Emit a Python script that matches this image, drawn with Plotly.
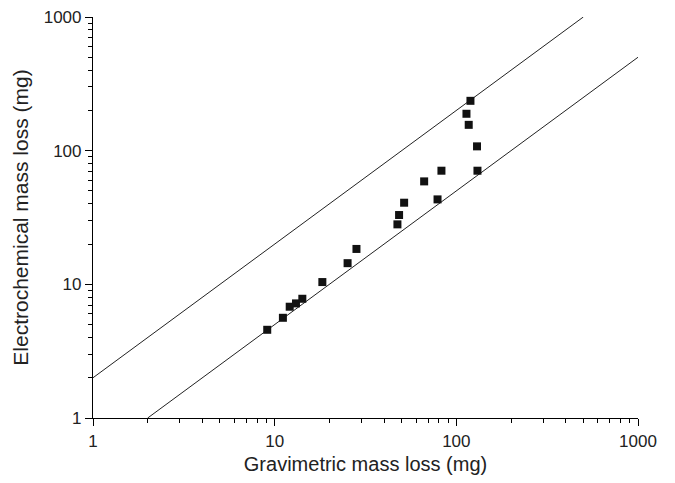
import plotly.graph_objects as go

grav = [9.1, 11.1, 12.1, 13.1, 14.2, 18.3, 25.2, 28.2, 47.4, 48.4, 51.6, 66.5, 78.8, 82.8, 113.7, 119.6, 117, 130, 130.7]
elec = [4.57, 5.62, 6.8, 7.2, 7.8, 10.4, 14.4, 18.4, 28.1, 33.0, 40.8, 58.9, 43.2, 70.8, 188.8, 236, 156, 107.7, 70.8]

upper_x = [1, 500]
upper_y = [2, 1000]
lower_x = [2, 1000]
lower_y = [1, 500]

major_ticks = [1, 10, 100, 1000]
tick_labels = ["1", "10", "100", "1000"]
minor_ticks = [m * d for d in [1, 10, 100] for m in range(2, 10)]

fig = go.Figure()
fig.add_trace(go.Scatter(x=upper_x, y=upper_y, mode="lines",
                         line=dict(color="#222", width=1), showlegend=False))
fig.add_trace(go.Scatter(x=lower_x, y=lower_y, mode="lines",
                         line=dict(color="#222", width=1), showlegend=False))
fig.add_trace(go.Scatter(x=grav, y=elec, mode="markers",
                         marker=dict(symbol="square", size=8, color="#111"),
                         showlegend=False))

axis_common = dict(
    type="log", range=[0, 3], showgrid=False, zeroline=False,
    showline=True, linecolor="black", linewidth=1.2,
    ticks="outside", ticklen=7, tickwidth=1, tickcolor="black",
    tickmode="array", tickvals=major_ticks, ticktext=tick_labels,
    tickfont=dict(family="Liberation Sans, Arial", size=17, color="#222"),
    automargin=False,
    minor=dict(tickmode="array", tickvals=minor_ticks, ticks="outside",
               ticklen=4, tickwidth=1, tickcolor="black", showgrid=False),
)

fig.update_layout(
    width=675, height=483,
    margin=dict(l=93, r=37, t=17, b=65),
    paper_bgcolor="white", plot_bgcolor="white",
    font=dict(family="Liberation Sans, Arial", size=17, color="#222"),
    xaxis=dict(axis_common, title=dict(text="Gravimetric mass loss (mg)",
                                        font=dict(size=20), standoff=7)),
    yaxis=dict(axis_common, title=dict(text="Electrochemical mass loss (mg)",
                                        font=dict(size=21), standoff=9)),
)

fig.write_html("out.html", config={"displayModeBar": False},
               post_script="document.body.style.margin='0';")
